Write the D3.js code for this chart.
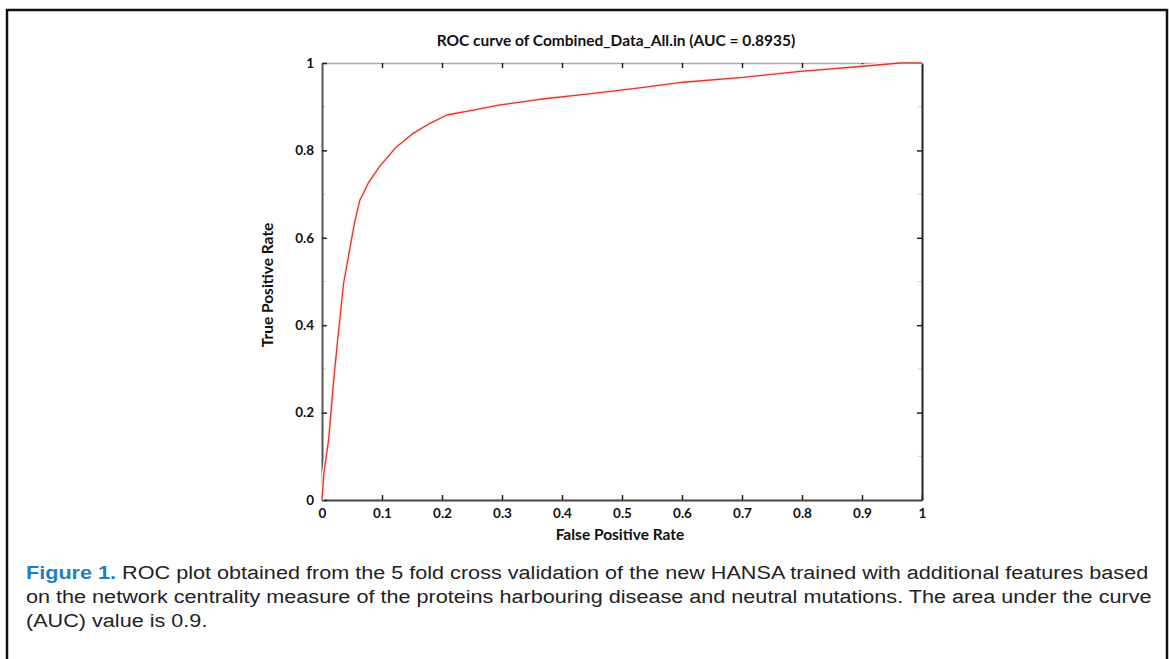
<!DOCTYPE html>
<html>
<head>
<meta charset="utf-8">
<script src="https://cdn.jsdelivr.net/npm/d3@7"></script>
<style>
  html, body { margin: 0; padding: 0; background: #fff; }
  svg { display: block; }
  .tick-label { font-family: Lato, 'Open Sans', sans-serif; font-weight: 700; font-size: 13.5px; fill: #111; }
  .axis-title { font-family: Lato, 'Open Sans', sans-serif; font-weight: 700; font-size: 15.5px; fill: #111; }
  .caption { font-family: 'Liberation Sans', Arial, sans-serif; font-size: 19px; fill: #222; }
</style>
</head>
<body>
<div id="chart"></div>
<script>
const WIDTH = 1169;
const HEIGHT = 659;

// ROC curve
const falsePositiveRate = [0, 0.003, 0.011, 0.019, 0.025, 0.029, 0.036, 0.046, 0.054, 0.063, 0.069, 0.077, 0.097, 0.124, 0.152, 0.18, 0.208, 0.252, 0.297, 0.363, 0.43, 0.463, 0.536, 0.602, 0.702, 0.797, 0.897, 0.963, 1.0];
const truePositiveRate = [0, 0.061, 0.137, 0.267, 0.351, 0.404, 0.496, 0.572, 0.633, 0.686, 0.702, 0.725, 0.765, 0.808, 0.839, 0.862, 0.881, 0.892, 0.904, 0.917, 0.927, 0.932, 0.944, 0.956, 0.967, 0.981, 0.992, 1.0, 1.0];

const xTicks = [0, 0.1, 0.2, 0.3, 0.4, 0.5, 0.6, 0.7, 0.8, 0.9, 1];
const yTicks = [0, 0.2, 0.4, 0.6, 0.8, 1];
const yMinorTicks = [0.1, 0.3, 0.5, 0.7, 0.9];

const chartTitle = 'ROC curve of Combined_Data_All.in (AUC = 0.8935)';
const xLabel = 'False Positive Rate';
const yLabel = 'True Positive Rate';
const captionLead = 'Figure 1.';
const captionLines = [
  ' ROC plot obtained from the 5 fold cross validation of the new HANSA trained with additional features based',
  'on the network centrality measure of the proteins harbouring disease and neutral mutations. The area under the curve',
  '(AUC) value is 0.9.'
];

const plot = { left: 322, right: 922, top: 63, bottom: 500 };
const captionLeft = 26;
const captionRight = 1149;

const x = d3.scaleLinear().domain([0, 1]).range([plot.left, plot.right]);
const y = d3.scaleLinear().domain([0, 1]).range([plot.bottom, plot.top]);

const svg = d3.select('#chart')
  .append('svg')
  .attr('width', WIDTH)
  .attr('height', HEIGHT);

// outer frame (top, left, right)
svg.append('path')
  .attr('d', `M7,${HEIGHT} V10 H${WIDTH - 2} V${HEIGHT}`)
  .attr('fill', 'none')
  .attr('stroke', '#111')
  .attr('stroke-width', 2.5);

// title
svg.append('text')
  .attr('class', 'axis-title')
  .attr('x', 616)
  .attr('y', 46)
  .attr('text-anchor', 'middle')
  .text(chartTitle);

// minor ticks (faint)
const minor = svg.append('g').attr('stroke', '#ccc').attr('stroke-width', 1);
minor.selectAll('line.l')
  .data(yMinorTicks)
  .join('line')
  .attr('class', 'l')
  .attr('x1', plot.left).attr('x2', plot.left + 4)
  .attr('y1', d => y(d)).attr('y2', d => y(d));
minor.selectAll('line.r')
  .data(yMinorTicks)
  .join('line')
  .attr('class', 'r')
  .attr('x1', plot.right).attr('x2', plot.right - 4)
  .attr('y1', d => y(d)).attr('y2', d => y(d));

// axes
const bottomAxis = svg.append('g')
  .attr('transform', `translate(0,${plot.bottom})`)
  .call(d3.axisBottom(x).tickValues(xTicks).tickSize(-5).tickSizeOuter(0).tickPadding(8)
    .tickFormat(d => d3.format('~g')(d)));
const topAxis = svg.append('g')
  .attr('transform', `translate(0,${plot.top})`)
  .call(d3.axisTop(x).tickValues(xTicks.slice(1, -1)).tickSize(-5).tickSizeOuter(0).tickFormat(''));
const leftAxis = svg.append('g')
  .attr('transform', `translate(${plot.left},0)`)
  .call(d3.axisLeft(y).tickValues(yTicks).tickSize(-5).tickSizeOuter(0).tickPadding(8)
    .tickFormat(d => d3.format('~g')(d)));
const rightAxis = svg.append('g')
  .attr('transform', `translate(${plot.right},0)`)
  .call(d3.axisRight(y).tickValues(yTicks.slice(1, -1)).tickSize(-5).tickSizeOuter(0).tickFormat(''));

[bottomAxis, topAxis, leftAxis, rightAxis].forEach(g => {
  g.attr('font-family', null).attr('font-size', null);
  g.selectAll('.tick line').attr('stroke', '#222').attr('stroke-width', 1.5);
  g.selectAll('.tick text').attr('class', 'tick-label');
});
bottomAxis.select('.domain').attr('stroke', '#444').attr('stroke-width', 2);
leftAxis.select('.domain').attr('stroke', '#555').attr('stroke-width', 2);
rightAxis.select('.domain').attr('stroke', '#222').attr('stroke-width', 2);
topAxis.select('.domain').attr('stroke', '#aaa').attr('stroke-width', 1.5);

// ROC curve
const curveData = falsePositiveRate.map((fpr, i) => ({ fpr, tpr: truePositiveRate[i] }));
const line = d3.line().x(d => x(d.fpr)).y(d => y(d.tpr));

svg.append('path')
  .datum(curveData)
  .attr('d', line)
  .attr('fill', 'none')
  .attr('stroke', '#fdeee9')
  .attr('stroke-width', 4)
  .attr('stroke-linejoin', 'round');
svg.append('path')
  .datum(curveData)
  .attr('d', line)
  .attr('fill', 'none')
  .attr('stroke', '#e0352c')
  .attr('stroke-width', 1.3)
  .attr('stroke-linejoin', 'round');

// axis titles
svg.append('text')
  .attr('class', 'axis-title')
  .attr('x', 620)
  .attr('y', 540)
  .attr('text-anchor', 'middle')
  .text(xLabel);
svg.append('text')
  .attr('class', 'axis-title')
  .attr('transform', `translate(273,285) rotate(-90)`)
  .attr('text-anchor', 'middle')
  .text(yLabel);

// caption: the source text is a little wider than Arial, so stretch it to the same line width
const caption = svg.append('g').attr('class', 'caption-block');
const firstLine = caption.append('text')
  .attr('class', 'caption')
  .attr('x', 0)
  .attr('y', 579);
firstLine.append('tspan')
  .attr('font-weight', 700)
  .attr('fill', '#1f7fc1')
  .text(captionLead);
firstLine.append('tspan').text(captionLines[0]);

caption.selectAll('text.rest')
  .data(captionLines.slice(1))
  .join('text')
  .attr('class', 'caption rest')
  .attr('x', 0)
  .attr('y', (d, i) => 603 + i * 24)
  .text(d => d);

const naturalWidth = firstLine.node().getComputedTextLength();
const stretch = (captionRight - captionLeft) / naturalWidth;
caption.attr('transform', `translate(${captionLeft},0) scale(${stretch},1)`);
</script>
</body>
</html>
